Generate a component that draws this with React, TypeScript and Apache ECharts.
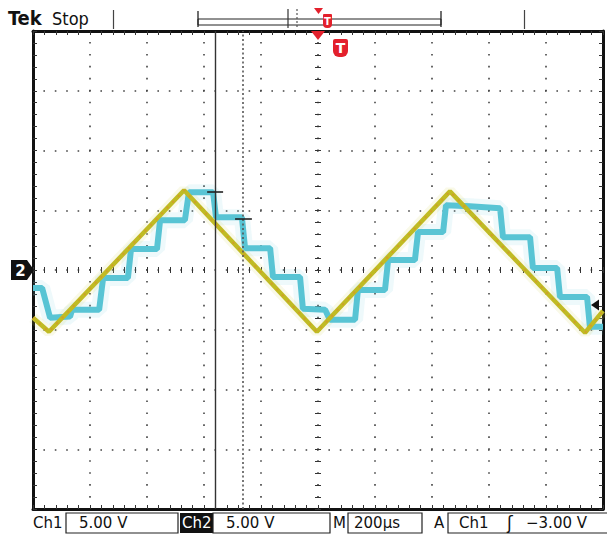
import React, { useEffect, useRef } from "react";
import * as echarts from "echarts";

// Time in µs (200 µs/div, 10 div), voltage in V (5 V/div, 8 div)
const ch1Time = [-1000, -944, -470, -4, 463, 937, 1000];
const ch1Volts = [-4.0, -5.17, 6.67, -5.17, 6.58, -5.25, -3.42];

const ch2Time = [-1000, -968, -940, -870, -863, -768, -754, -667, -656, -565, -554, -467, -453, -368, -358, -267, -256, -168, -158, -63, -53, 25, 42, 130, 140, 235, 246, 340, 351, 439, 449, 533, 639, 649, 744, 754, 839, 849, 944, 954, 1000];
const ch2Volts = [-1.5, -1.5, -4.0, -3.9, -3.33, -3.33, -0.67, -0.67, 1.75, 1.75, 4.17, 4.17, 6.5, 6.5, 4.42, 4.42, 1.83, 1.83, -0.58, -0.58, -3.25, -3.33, -4.17, -4.17, -1.67, -1.67, 0.83, 0.83, 3.17, 3.17, 5.42, 5.33, 5.17, 2.75, 2.75, 0.17, 0.17, -2.25, -2.25, -4.75, -4.75];

const cursorTimes = [-361, -263];
const markStart = [-389, -291];
const markEnd = [-333, -232];
const markVolts = [6.58, 4.33];

const ch1Scale = "5.00 V";
const ch2Scale = "5.00 V";
const timeBase = "200µs";
const triggerText = "−3.00 V";

const FONT = '"DejaVu Sans", sans-serif';

export default function App() {
  const ref = useRef<HTMLDivElement>(null);
  useEffect(() => {
    if (!ref.current) return;
    const chart = echarts.init(ref.current, undefined, { renderer: "svg" });
    const zip = (a: number[], b: number[]) => a.map((t, i) => [t, b[i]]);
    const ch1 = zip(ch1Time, ch1Volts);
    const ch2 = zip(ch2Time, ch2Volts);

    const tickStyle = { color: "#333", width: 1 };
    const xBase = { type: "value", min: -1000, max: 1000, interval: 200, axisLabel: { show: false }, splitLine: { show: false } };
    const yBase = { type: "value", min: -20, max: 20, interval: 5, axisLabel: { show: false }, splitLine: { show: false } };

    const frameLine = { show: true, onZero: false, lineStyle: { color: "#111", width: 3 } };
    const xAxis = [
      {
        ...xBase, position: "bottom",
        axisLine: frameLine,
        axisTick: { show: true, inside: true, length: 4, lineStyle: tickStyle },
        minorTick: { show: true, splitNumber: 5, length: 4, lineStyle: tickStyle },
        splitLine: { show: true, lineStyle: { color: "#444", width: 1.6, type: [1.6, 10.35], dashOffset: 0.8 } },
      },
      {
        ...xBase, position: "top",
        axisLine: frameLine,
        axisTick: { show: true, inside: true, length: 4, lineStyle: tickStyle },
        minorTick: { show: true, splitNumber: 5, length: 4, lineStyle: tickStyle },
      },
      {
        ...xBase, position: "bottom",
        axisLine: { show: false, onZero: true, onZeroAxisIndex: 0 },
        axisTick: { show: true, inside: true, length: 3, lineStyle: tickStyle },
        minorTick: { show: true, splitNumber: 5, length: 3, lineStyle: tickStyle },
      },
      {
        ...xBase, position: "bottom",
        axisLine: { show: false, onZero: true, onZeroAxisIndex: 0 },
        axisTick: { show: true, inside: false, length: 3, lineStyle: tickStyle },
        minorTick: { show: true, splitNumber: 5, length: 3, lineStyle: tickStyle },
      },
    ];
    const yAxis = [
      {
        ...yBase, position: "left",
        axisLine: frameLine,
        axisTick: { show: true, inside: true, length: 4, lineStyle: tickStyle },
        minorTick: { show: true, splitNumber: 5, length: 4, lineStyle: tickStyle },
        splitLine: { show: true, lineStyle: { color: "#444", width: 1.6, type: [1.6, 9.8], dashOffset: 0.8 } },
      },
      {
        ...yBase, position: "right",
        axisLine: frameLine,
        axisTick: { show: true, inside: true, length: 4, lineStyle: tickStyle },
        minorTick: { show: true, splitNumber: 5, length: 4, lineStyle: tickStyle },
      },
      {
        ...yBase, position: "left",
        axisLine: { show: false, onZero: true, onZeroAxisIndex: 0 },
        axisTick: { show: true, inside: true, length: 3, lineStyle: tickStyle },
        minorTick: { show: true, splitNumber: 5, length: 3, lineStyle: tickStyle },
      },
      {
        ...yBase, position: "left",
        axisLine: { show: false, onZero: true, onZeroAxisIndex: 0 },
        axisTick: { show: true, inside: false, length: 3, lineStyle: tickStyle },
        minorTick: { show: true, splitNumber: 5, length: 3, lineStyle: tickStyle },
      },
    ];

    const markData: any[] = [
      { xAxis: cursorTimes[0], lineStyle: { color: "#333", width: 1.4, type: "solid" } },
      { xAxis: cursorTimes[1], lineStyle: { color: "#555", width: 1.6, type: [2, 2.5] } },
    ];
    markStart.forEach((t0, i) => {
      markData.push([
        { coord: [t0, markVolts[i]], lineStyle: { color: "#222", width: 1.6, type: "solid" } },
        { coord: [markEnd[i], markVolts[i]] },
      ]);
    });

    const red = "#e3202c";
    const textCenter = (text: string, x: number, y: number, size: number, fill = "#111", weight = "normal", align = "left") => ({
      type: "text", x, y,
      style: { text, fill, font: `${weight} ${size}px ${FONT}`, align, verticalAlign: "middle" },
      z: 100,
    });
    const box = (x: number, w: number) => ({
      type: "rect", shape: { x, y: 513, width: w, height: 20 },
      style: { fill: "none", stroke: "#222", lineWidth: 1.2 }, z: 100,
    });

    const graphic: any[] = [
      // top status bar
      { type: "text", x: 8, y: 18, style: { text: "Tek", fill: "#111", font: 'bold 20px "DejaVu Sans Condensed", sans-serif', verticalAlign: "middle" }, z: 100 },
      { type: "text", x: 52, y: 18, style: { text: "Stop", fill: "#111", font: '18px "DejaVu Sans Condensed", sans-serif', verticalAlign: "middle" }, z: 100 },
      { type: "line", shape: { x1: 113.5, y1: 10, x2: 113.5, y2: 29 }, style: { stroke: "#444", lineWidth: 1.2 }, z: 100 },
      { type: "line", shape: { x1: 524.5, y1: 10, x2: 524.5, y2: 29 }, style: { stroke: "#444", lineWidth: 1.2 }, z: 100 },
      { type: "rect", shape: { x: 198, y: 19, width: 243, height: 6 }, style: { fill: "#fff", stroke: "#222", lineWidth: 1 }, z: 100 },
      { type: "line", shape: { x1: 198, y1: 11, x2: 198, y2: 27 }, style: { stroke: "#222", lineWidth: 1.3 }, z: 100 },
      { type: "line", shape: { x1: 441, y1: 11, x2: 441, y2: 27 }, style: { stroke: "#222", lineWidth: 1.3 }, z: 100 },
      { type: "line", shape: { x1: 288, y1: 9, x2: 288, y2: 28 }, style: { stroke: "#333", lineWidth: 1.2 }, z: 101 },
      { type: "line", shape: { x1: 297, y1: 9, x2: 297, y2: 28 }, style: { stroke: "#555", lineWidth: 1.2, lineDash: [2, 2] }, z: 101 },
      { type: "polygon", shape: { points: [[314, 8], [323, 8], [318.5, 14]] }, style: { fill: red }, z: 102 },
      { type: "rect", shape: { x: 323, y: 14, width: 9, height: 14, r: [1, 1, 4, 4] }, style: { fill: red }, z: 102 },
      { type: "text", x: 327.5, y: 21, style: { text: "T", fill: "#fff", font: `bold 10px ${FONT}`, align: "center", verticalAlign: "middle" }, z: 103 },
      // trigger position marker below
      { type: "polygon", shape: { points: [[311, 31], [325, 31], [318, 40]] }, style: { fill: red }, z: 102 },
      { type: "rect", shape: { x: 333, y: 39, width: 15, height: 18, r: [2, 2, 6, 6] }, style: { fill: red }, z: 102 },
      { type: "text", x: 340.5, y: 47.5, style: { text: "T", fill: "#fff", font: `bold 14px ${FONT}`, align: "center", verticalAlign: "middle" }, z: 103 },
      // Ch2 ground marker
      { type: "polygon", shape: { points: [[11, 260], [27, 260], [34, 270], [27, 280], [11, 280]] }, style: { fill: "#111" }, z: 102 },
      { type: "text", x: 20.5, y: 270.5, style: { text: "2", fill: "#fff", font: `bold 15px ${FONT}`, align: "center", verticalAlign: "middle" }, z: 103 },
      // Ch1 trigger level arrow
      { type: "polygon", shape: { points: [[591, 305], [599, 299.5], [599, 310.5]] }, style: { fill: "#111" }, z: 102 },
      // bottom readout
      textCenter("Ch1", 33, 523, 15),
      box(66, 112),
      textCenter(ch1Scale, 79, 523, 15),
      { type: "rect", shape: { x: 180, y: 513, width: 33, height: 20 }, style: { fill: "#111" }, z: 100 },
      textCenter("Ch2", 182, 523, 15, "#fff"),
      box(213, 117),
      textCenter(ch2Scale, 226, 523, 15),
      textCenter("M", 333, 523, 15),
      box(348, 74),
      textCenter(timeBase, 354, 523, 15),
      textCenter("A", 434, 523, 15),
      box(448, 170),
      textCenter("Ch1", 459, 523, 15),
      textCenter("ʃ", 507, 523, 17, "#111", "normal"),
      textCenter(triggerText, 526, 523, 15),
    ];

    chart.setOption({
      animation: false,
      backgroundColor: "#ffffff",
      grid: { left: 33, top: 31, width: 570, height: 478, show: false, containLabel: false, outerBoundsMode: "none" },
      xAxis,
      yAxis,
      series: [
        {
          type: "line", name: "ch2-halo", data: ch2, showSymbol: false, silent: true, z: 2,
          lineStyle: { color: "rgba(120,208,224,0.13)", width: 16 }, emphasis: { disabled: true },
        },
        {
          type: "line", name: "ch1-halo", data: ch1, showSymbol: false, silent: true, z: 2,
          lineStyle: { color: "rgba(215,210,90,0.14)", width: 11 }, emphasis: { disabled: true },
        },
        {
          type: "line", name: "Ch2", data: ch2, showSymbol: false, silent: true, z: 3,
          lineStyle: { color: "#58c4d4", width: 6 }, emphasis: { disabled: true },
          markLine: { silent: true, symbol: ["none", "none"], label: { show: false }, animation: false, data: markData },
        },
        {
          type: "line", name: "Ch1", data: ch1, showSymbol: false, silent: true, z: 4,
          lineStyle: { color: "#c0bb24", width: 4.5 }, emphasis: { disabled: true },
        },
        {
          type: "line", name: "ch1-dots", data: ch1, showSymbol: false, silent: true, z: 5,
          lineStyle: { color: "#e0862c", width: 2, type: [2, 6], opacity: 0.5 }, emphasis: { disabled: true },
        },
      ],
      graphic,
    });
    return () => chart.dispose();
  }, []);
  return (
    <div style={{ position: "fixed", left: 0, top: 0, width: 607, height: 536, background: "#fff" }}>
      <div ref={ref} style={{ width: 607, height: 536 }} />
    </div>
  );
}
